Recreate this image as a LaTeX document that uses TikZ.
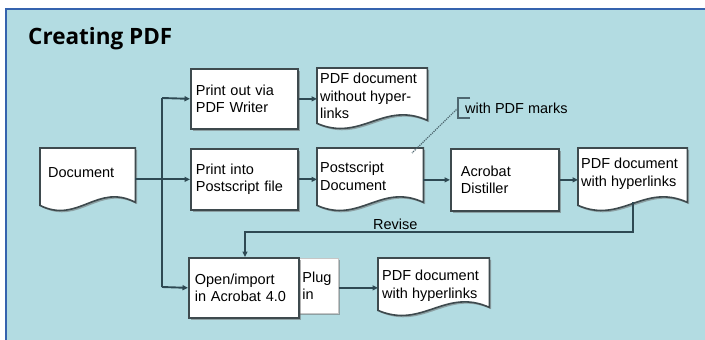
\documentclass[tikz,border=0pt]{standalone}
\usepackage{fontspec}
\setmainfont{Liberation Sans}
\newfontfamily\titlefont{Open Sans}
\usetikzlibrary{arrows.meta,calc,shadows}
\definecolor{bgblue}{HTML}{B3DCE2}
\definecolor{frameblue}{HTML}{3563AE}
\definecolor{linecol}{HTML}{2E4953}
\definecolor{boxline}{HTML}{3E4A4E}
\definecolor{markgray}{HTML}{4E6770}
\pgfdeclarelayer{back}\pgfdeclarelayer{bg}
\pgfsetlayers{back,bg,main}
\tikzset{
 txt/.style={font=\fontsize{14.5}{17.5}\selectfont, text=black},
 shad/.style={drop shadow={shadow xshift=1.8pt,shadow yshift=-1.8pt,fill=black!60,opacity=0.5}},
 box/.style={txt, draw=boxline, line width=1.7pt, fill=white, shad, align=left, inner xsep=5pt, inner ysep=0pt, anchor=north west},
 docframe/.style={draw=boxline, line width=1.6pt, fill=white, shad},
 docbox/.style={inner sep=0pt, anchor=north west},
 doctext/.style={txt, align=left, inner sep=0pt, anchor=north west},
 conn/.style={draw=linecol, line width=1.9pt},
 arr/.style={conn, -{Triangle[length=5.5pt,width=5pt]}},
 markline/.style={draw=markgray, line width=1.2pt},
}
\newcommand\docoutline[1]{%
 \begin{pgfonlayer}{bg}
 \path[docframe] let \p1=(#1.north west), \p2=(#1.south east), \n1={\x2-\x1} in
   (\p1) -- (\x2,\y1) -- (\p2) .. controls ({\x2-0.4*\n1},{\y2+20pt}) and ({\x1+0.4*\n1},{\y2-22pt}) .. (\x1,{\y2-3pt}) -- cycle;
 \end{pgfonlayer}}
\begin{document}
\begin{tikzpicture}[x=1pt,y=-1pt]
\useasboundingbox (0,0) rectangle (705,340);
\begin{pgfonlayer}{back}
\fill[bgblue] (6,9) rectangle (705,340);
\draw[frameblue, line width=2pt] (6,340) -- (6,9) -- (705,9);
\end{pgfonlayer}
\node[font=\titlefont\bfseries\fontsize{22.5}{28}\selectfont, anchor=base west, inner sep=0pt] (title) at (28,45) {Creating PDF};

% document shapes
\node[docbox, minimum width=95pt, minimum height=54pt] (d0) at (40,148) {};
\docoutline{d0}
\node[doctext] (d0t) at (48,167) {Document};

\node[docbox, minimum width=110pt, minimum height=52pt] (d1) at (317,68) {};
\docoutline{d1}
\node[doctext] (d1t) at (320,73) {PDF document\\without hyper-\\links};

\node[docbox, minimum width=106pt, minimum height=54pt] (d2) at (317,148) {};
\docoutline{d2}
\node[doctext] (d2t) at (320,162) {Postscript\\Document};

\node[docbox, minimum width=109pt, minimum height=54pt] (d3) at (578,148) {};
\docoutline{d3}
\node[doctext] (d3t) at (581,158) {PDF document\\with hyperlinks};

\node[docbox, minimum width=111pt, minimum height=49pt] (d4) at (378,258) {};
\docoutline{d4}
\node[doctext] (d4t) at (382,270) {PDF document\\with hyperlinks};

% boxes
\node[box, text width=97pt, minimum height=60pt] (p1) at (190,68) {Print out via\\PDF Writer};
\node[box, text width=97pt, minimum height=61pt] (p2) at (190,148) {Print into\\Postscript file};
\node[box, inner xsep=10pt, text width=88pt, minimum height=62pt] (p3) at (450,148) {Acrobat\\Distiller};
\node[box, draw=gray!45, line width=0.8pt, inner xsep=4pt, text width=32pt, minimum height=55pt] (p5) at (298,258) {Plug\\in};
\node[box, inner xsep=6pt, text width=98pt, minimum height=60pt] (p4) at (188,257) {Open/import\\in Acrobat 4.0};

% connectors
\coordinate (tt) at (162,98);
\coordinate (tb) at (162,287);
\draw[conn] (tt) -- (tb);
\draw[arr] (tt) -- (p1.west);
\draw[arr] (tb) -- (p4.west);
\draw[arr] (d0.east |- p2.west) -- (p2.west);
\draw[arr] (p1.east) -- (d1.west |- p1.east);
\draw[arr] (p2.east) -- (d2.west |- p2.east);
\draw[arr] (d2.east |- p3.west) -- (p3.west);
\draw[arr] (p3.east) -- (d3.west |- p3.east);
\coordinate (rv) at (633,232);
\coordinate (rv2) at (245,232);
\draw[arr] (d3.south -| rv) -- (rv) -- (rv2) -- (p4.north -| rv2);
\node[txt, anchor=base west, inner sep=0pt] (rvl) at (373,229) {Revise};
\draw[arr] (p5.east |- p4.west) -- (d4.west |- p4.west);

% with PDF marks
\node[txt, anchor=base west, inner sep=0pt] (wm) at (465,113) {with PDF marks};
\coordinate (br) at (458,108);
\coordinate (pm) at (412,153);
\draw[markline] (470,98) -- (458,98) -- (458,118) -- (470,118);
\draw[markline, densely dotted] (br) -- (pm);
\end{tikzpicture}
\end{document}
